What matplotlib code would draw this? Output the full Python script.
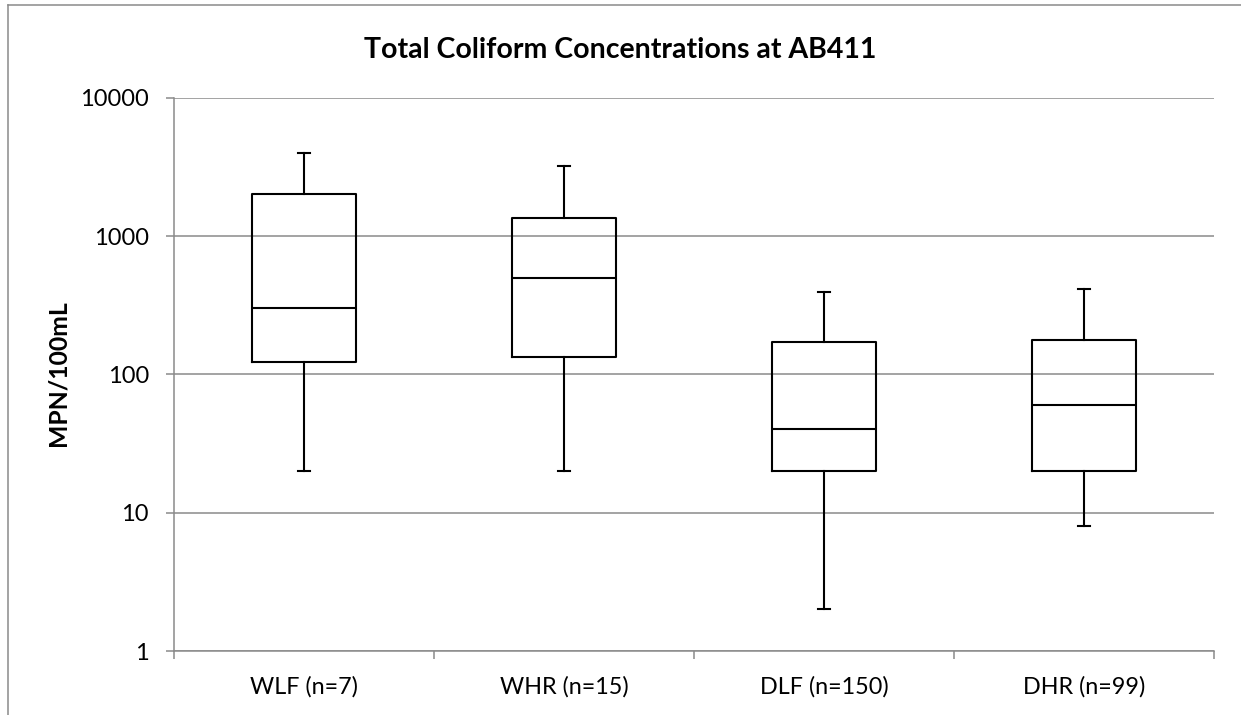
import matplotlib
matplotlib.use("Agg")
import matplotlib.pyplot as plt
from matplotlib.lines import Line2D
from matplotlib.ticker import FixedLocator, NullFormatter, NullLocator

# values (MPN/100mL)
sites = ["WLF (n=7)", "WHR (n=15)", "DLF (n=150)", "DHR (n=99)"]
whisker_low = [20, 20, 2, 8]
q1 = [123, 134, 20, 20]
median = [300, 500, 40, 60]
q3 = [2000, 1350, 171, 177]
whisker_high = [4000, 3200, 395, 415]
y_ticks = [1, 10, 100, 1000, 10000]

plt.rcParams["font.family"] = ["Lato", "DejaVu Sans"]

fig = plt.figure(figsize=(12.41, 7.15), dpi=100)
ax = fig.add_axes([174 / 1241, 64 / 715, 1040 / 1241, 553.3 / 715])

stats = []
for i, name in enumerate(sites):
    stats.append({"label": name, "whislo": whisker_low[i], "q1": q1[i],
                  "med": median[i], "q3": q3[i], "whishi": whisker_high[i]})

line = dict(color="black", linewidth=1.5)
ax.bxp(stats, positions=range(1, len(sites) + 1), widths=0.4,
       showfliers=False, capwidths=0.046,
       boxprops=line, whiskerprops=line, capprops=line,
       medianprops=line, zorder=3)

ax.set_yscale("log")
ax.set_ylim(1, 10000)
ax.set_xlim(0.5, len(sites) + 0.5)
ax.yaxis.set_major_locator(FixedLocator(y_ticks))
ax.yaxis.set_minor_locator(NullLocator())
ax.set_yticklabels([str(v) for v in y_ticks])

# boundaries carry the tick marks, centres carry the labels
ax.xaxis.set_major_locator(FixedLocator([i + 0.5 for i in range(len(sites) + 1)]))
ax.xaxis.set_major_formatter(NullFormatter())
ax.xaxis.set_minor_locator(FixedLocator(range(1, len(sites) + 1)))
ax.set_xticklabels(sites, minor=True)

grey = "#8a8a8a"
ax.grid(axis="y", color=grey, linewidth=1.1, zorder=0)
ax.set_axisbelow(True)
for side in ["top", "right"]:
    ax.spines[side].set_visible(False)
for side in ["left", "bottom"]:
    ax.spines[side].set_color(grey)
    ax.spines[side].set_linewidth(1.1)

ax.tick_params(axis="y", which="major", length=6, width=1.1, color=grey,
               pad=12, labelsize=17)
ax.tick_params(axis="x", which="major", length=6, width=1.1, color=grey)
ax.tick_params(axis="x", which="minor", length=0, pad=18, labelsize=16.8)

fig.text(620 / 1241, 1 - 50 / 715, "Total Coliform Concentrations at AB411",
         ha="center", va="center", fontsize=20.5, fontweight="bold")
fig.text(58 / 1241, 1 - 373 / 715, "MPN/100mL", rotation=90,
         ha="center", va="center", fontsize=17.8, fontweight="bold")

# chart frame, cut off at the right and bottom like the reference
fig.add_artist(Line2D([8 / 1241, 8 / 1241], [0, 1 - 5 / 715],
                      transform=fig.transFigure, color=grey, linewidth=1.1))
fig.add_artist(Line2D([8 / 1241, 1], [1 - 5 / 715, 1 - 5 / 715],
                      transform=fig.transFigure, color=grey, linewidth=1.1))

fig.savefig("out.png", dpi=100)
